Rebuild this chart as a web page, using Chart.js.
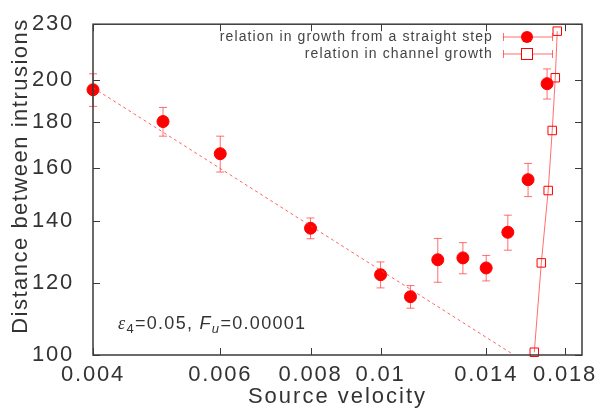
<!DOCTYPE html>
<html>
<head>
<meta charset="utf-8">
<title>Distance between intrusions vs source velocity</title>
<script src="https://cdn.jsdelivr.net/npm/chart.js@4.4.1/dist/chart.umd.min.js"></script>
<style>
  html, body { margin: 0; padding: 0; background: #fff; }
  #wrap { width: 604px; height: 410px; }
</style>
</head>
<body>
<div id="wrap"><canvas id="chart" width="604" height="410"></canvas></div>
<script>
// growth from a straight step (filled circles, vertical error bars)
const stepVelocity = [0.004, 0.005, 0.006, 0.008, 0.010, 0.011, 0.012, 0.013, 0.014, 0.015, 0.016, 0.017];
const stepSpacing  = [195, 180, 166, 137.6, 122.4, 115.8, 127.1, 127.7, 124.5, 136.2, 155.5, 198];
const stepError    = [8, 6.5, 7.5, 3.6, 4, 3.3, 7, 5, 4, 6, 6.5, 7.5];

// channel growth (open symbols joined by a line)
const channelVelocity = [0.01632, 0.01669, 0.01706, 0.01728, 0.01745, 0.01756];
const channelSpacing  = [100.7, 126.1, 151.3, 176, 201, 226];

// dotted power-law fit
const fitVelocity = [0.004, 0.0153];
const fitSpacing  = [196, 100];

const xTicks = [0.004, 0.006, 0.008, 0.01, 0.014, 0.018];
const xTickLabels = ['0.004', '0.006', '0.008', '0.01', '0.014', '0.018'];
const yTicks = [100, 120, 140, 160, 180, 200, 230];

const legendLabels = ['relation in growth from a straight step', 'relation in channel growth'];

const textColor = '#333';
const red = '#ff0000';
const pale = 'rgba(255, 50, 50, 0.7)';

const toPoints = (xs, ys) => xs.map((v, i) => ({ x: v, y: ys[i] }));

const decorations = {
  id: 'decorations',
  beforeDraw(chart) {
    chart.ctx.letterSpacing = '1.8px';
  },
  beforeDatasetsDraw(chart) {
    const { ctx, scales: { x, y } } = chart;
    ctx.save();
    ctx.strokeStyle = pale;
    ctx.lineWidth = 1;
    stepVelocity.forEach((v, i) => {
      const px = x.getPixelForValue(v);
      const top = y.getPixelForValue(stepSpacing[i] + stepError[i]);
      const bot = y.getPixelForValue(stepSpacing[i] - stepError[i]);
      ctx.beginPath();
      ctx.moveTo(px, top); ctx.lineTo(px, bot);
      ctx.moveTo(px - 4, top); ctx.lineTo(px + 4, top);
      ctx.moveTo(px - 4, bot); ctx.lineTo(px + 4, bot);
      ctx.stroke();
    });
    ctx.restore();
  },
  afterDraw(chart) {
    const { ctx, chartArea: a, scales: { x, y } } = chart;
    ctx.save();

    // frame and inward, mirrored tick marks
    ctx.strokeStyle = '#3a3a3a';
    ctx.lineWidth = 1.5;
    ctx.strokeRect(a.left, a.top, a.right - a.left, a.bottom - a.top);
    ctx.lineWidth = 1;
    ctx.beginPath();
    xTicks.forEach(v => {
      const px = Math.round(x.getPixelForValue(v)) + 0.5;
      ctx.moveTo(px, a.bottom); ctx.lineTo(px, a.bottom - 7);
      ctx.moveTo(px, a.top); ctx.lineTo(px, a.top + 7);
    });
    yTicks.forEach(v => {
      const py = Math.round(y.getPixelForValue(v)) + 0.5;
      ctx.moveTo(a.left, py); ctx.lineTo(a.left + 7, py);
      ctx.moveTo(a.right, py); ctx.lineTo(a.right - 7, py);
    });
    ctx.stroke();

    // axis titles
    ctx.fillStyle = textColor;
    ctx.font = '22px "Liberation Sans", Arial, sans-serif';
    ctx.letterSpacing = '2px';
    ctx.textAlign = 'center';
    ctx.textBaseline = 'middle';
    ctx.fillText('Source velocity', (a.left + a.right) / 2, 397);
    ctx.save();
    ctx.translate(21, 176);
    ctx.rotate(-Math.PI / 2);
    ctx.letterSpacing = '1.5px';
    ctx.fillText('Distance between intrusions', 0, 0);
    ctx.restore();

    // legend
    ctx.font = '14px "Liberation Sans", Arial, sans-serif';
    ctx.letterSpacing = '1.1px';
    ctx.textAlign = 'right';
    ctx.fillStyle = '#444';
    const rows = [37, 54];
    legendLabels.forEach((t, i) => ctx.fillText(t, 493, rows[i]));
    ctx.strokeStyle = pale;
    ctx.lineWidth = 1;
    rows.forEach(ry => {
      ctx.beginPath();
      ctx.moveTo(503, ry); ctx.lineTo(553, ry);
      ctx.moveTo(503.5, ry - 4); ctx.lineTo(503.5, ry + 4);
      ctx.moveTo(552.5, ry - 4); ctx.lineTo(552.5, ry + 4);
      ctx.stroke();
    });
    ctx.fillStyle = red;
    ctx.beginPath();
    ctx.arc(527, rows[0], 6, 0, Math.PI * 2);
    ctx.fill();
    ctx.fillStyle = '#fff';
    ctx.strokeStyle = red;
    ctx.fillRect(521, rows[1] - 6, 12, 12);
    ctx.strokeRect(521.5, rows[1] - 5.5, 11, 11);

    // parameter annotation
    ctx.fillStyle = textColor;
    ctx.textAlign = 'left';
    ctx.textBaseline = 'alphabetic';
    ctx.letterSpacing = '1.3px';
    let cx = 118;
    const base = 329;
    const part = (t, font, dy) => {
      ctx.font = font;
      ctx.fillText(t, cx, base + dy);
      cx += ctx.measureText(t).width;
    };
    const reg = '18px "Liberation Sans", Arial, sans-serif';
    const ita = 'italic 18px "Liberation Serif", "Times New Roman", serif';
    const sub = '13px "Liberation Sans", Arial, sans-serif';
    const subI = 'italic 13px "Liberation Sans", Arial, sans-serif';
    part('\u03b5', ita, 0);
    part('4', sub, 4);
    part('=0.05, ', reg, 0);
    part('F', 'italic 18px "Liberation Sans", Arial, sans-serif', 0);
    part('u', subI, 4);
    part('=0.00001', reg, 0);

    ctx.restore();
  }
};

new Chart(document.getElementById('chart'), {
  type: 'scatter',
  data: {
    datasets: [
      {
        label: 'fit',
        type: 'line',
        data: toPoints(fitVelocity, fitSpacing),
        borderColor: 'rgba(255, 60, 60, 0.8)',
        borderWidth: 1,
        borderDash: [3, 3],
        pointRadius: 0,
        fill: false
      },
      {
        label: legendLabels[0],
        data: toPoints(stepVelocity, stepSpacing),
        backgroundColor: red,
        borderColor: red,
        pointRadius: 6,
        pointHoverRadius: 6,
        clip: false
      },
      {
        label: legendLabels[1],
        type: 'line',
        data: toPoints(channelVelocity, channelSpacing),
        borderColor: pale,
        borderWidth: 1,
        pointStyle: 'rect',
        pointRadius: 6,
        pointBorderColor: red,
        pointBackgroundColor: 'rgba(255,255,255,0)',
        pointBorderWidth: 1,
        fill: false,
        clip: false
      }
    ]
  },
  options: {
    responsive: false,
    animation: false,
    events: [],
    layout: { padding: { left: 0, top: 21, right: 22, bottom: 0 } },
    plugins: { legend: { display: false }, tooltip: { enabled: false } },
    scales: {
      x: {
        type: 'logarithmic',
        min: 0.004,
        max: 0.019,
        grid: { display: false },
        border: { display: false },
        afterBuildTicks: s => { s.ticks = xTicks.map(v => ({ value: v })); },
        afterFit: s => { s.height = 55; },
        ticks: {
          autoSkip: false,
          maxRotation: 0,
          padding: -1,
          color: textColor,
          font: { family: '"Liberation Sans", Arial, sans-serif', size: 22 },
          callback: (v, i) => xTickLabels[i]
        }
      },
      y: {
        type: 'logarithmic',
        min: 100,
        max: 230,
        grid: { display: false },
        border: { display: false },
        afterBuildTicks: s => { s.ticks = yTicks.map(v => ({ value: v })); },
        afterFit: s => { s.width = 93; },
        ticks: {
          autoSkip: false,
          padding: 11,
          color: textColor,
          font: { family: '"Liberation Sans", Arial, sans-serif', size: 22 },
          callback: (v, i) => String(yTicks[i])
        }
      }
    }
  },
  plugins: [decorations]
});
</script>
</body>
</html>
